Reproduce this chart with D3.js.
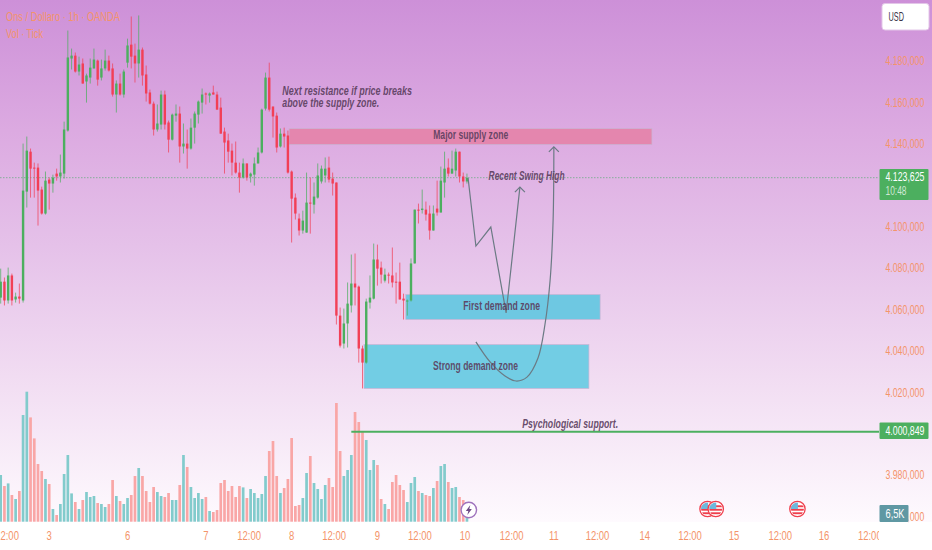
<!DOCTYPE html>
<html><head><meta charset="utf-8">
<script src="https://cdn.jsdelivr.net/npm/d3@7/dist/d3.min.js"></script>
<style>html,body{margin:0;padding:0;background:#fff;overflow:hidden}svg{display:block}</style>
</head><body><div id="chart"></div>
<script>
const title = "Ons / Dollaro · 1h · OANDA";
const subtitle = "Vol · Tick";
const currency = "USD";
const high = [4079.7,4075.4,4080.2,4077.3,4068.1,4072.5,4140.1,4143.5,4137.7,4130.9,4130.5,4119.3,4126.6,4123.7,4125.1,4128.0,4134.8,4150.7,4194.7,4186.0,4184.1,4182.1,4181.2,4173.9,4181.2,4186.0,4180.7,4180.7,4185.5,4182.6,4178.8,4170.6,4173.9,4175.9,4190.8,4201.5,4188.4,4202.0,4186.5,4177.8,4166.2,4160.4,4159.0,4165.7,4165.7,4151.2,4154.6,4159.0,4158.0,4149.8,4146.9,4152.2,4155.6,4160.9,4166.7,4164.8,4164.8,4168.1,4165.2,4162.3,4147.8,4144.9,4140.1,4141.1,4130.9,4132.9,4130.5,4126.1,4133.4,4138.2,4157.0,4174.4,4179.2,4158.0,4155.1,4147.4,4147.8,4146.4,4127.1,4116.0,4106.3,4107.7,4126.1,4123.7,4121.3,4130.5,4129.5,4133.4,4133.8,4126.1,4121.3,4060.9,4060.4,4073.0,4086.5,4087.0,4071.5,4042.5,4065.2,4076.4,4091.8,4091.3,4083.1,4079.7,4077.8,4089.9,4077.8,4082.6,4067.6,4064.8,4084.6,4108.2,4111.1,4117.9,4112.1,4110.2,4110.2,4122.2,4129.0,4136.2,4132.9,4136.7,4137.7,4136.2,4126.1,4125.6];
const open = [4065.7,4073.4,4064.3,4076.4,4064.8,4066.2,4064.3,4116.9,4136.2,4128.5,4128.5,4117.9,4106.3,4122.7,4120.8,4125.6,4124.2,4125.6,4146.4,4181.2,4182.6,4174.9,4178.8,4170.1,4172.0,4176.4,4180.2,4172.0,4176.4,4180.2,4176.4,4163.8,4169.1,4163.8,4179.2,4187.9,4182.6,4178.8,4185.5,4173.5,4164.8,4159.4,4146.9,4149.3,4163.8,4150.3,4142.0,4153.6,4154.6,4138.7,4140.1,4137.7,4147.8,4154.1,4159.9,4164.3,4163.3,4164.8,4163.8,4157.5,4145.9,4141.6,4136.7,4130.9,4126.1,4123.7,4130.5,4124.2,4125.1,4130.5,4135.8,4157.0,4172.0,4158.0,4153.6,4138.7,4144.9,4144.0,4126.6,4114.0,4103.9,4098.1,4097.1,4111.6,4110.6,4114.0,4121.8,4124.7,4128.5,4123.2,4121.3,4057.0,4043.5,4053.2,4061.9,4072.5,4071.0,4041.1,4034.3,4063.3,4065.2,4084.1,4080.2,4073.9,4076.8,4076.4,4073.4,4073.4,4065.2,4063.8,4064.3,4082.2,4108.2,4108.0,4108.2,4106.3,4098.1,4108.7,4106.8,4121.3,4128.5,4125.6,4127.1,4136.2,4124.2,4121.8];
const low = [4062.8,4061.9,4062.8,4061.9,4063.3,4062.8,4063.3,4109.2,4114.0,4114.0,4100.5,4105.8,4105.8,4108.2,4116.4,4122.2,4121.3,4123.2,4145.9,4175.9,4174.4,4173.0,4169.1,4159.9,4169.1,4176.4,4168.1,4170.6,4175.4,4174.9,4162.8,4155.1,4163.3,4162.3,4176.8,4176.4,4169.6,4172.0,4168.1,4160.4,4159.0,4144.0,4145.9,4146.9,4146.9,4135.8,4141.6,4150.7,4130.9,4135.3,4128.0,4137.2,4140.1,4149.8,4154.6,4159.0,4159.9,4163.8,4156.5,4144.9,4125.6,4130.9,4124.7,4125.6,4116.4,4123.2,4122.2,4121.3,4119.8,4130.5,4135.3,4156.1,4155.6,4143.0,4135.8,4138.2,4138.2,4125.6,4092.3,4103.4,4095.7,4096.6,4097.1,4096.6,4106.3,4113.5,4120.8,4121.3,4121.3,4115.0,4052.7,4041.6,4041.1,4041.6,4058.5,4061.9,4034.3,4021.8,4033.8,4060.4,4064.8,4071.5,4072.5,4073.0,4072.5,4070.6,4062.8,4064.8,4055.1,4057.0,4063.8,4082.2,4101.5,4106.3,4102.9,4093.7,4098.1,4105.3,4106.8,4114.0,4124.2,4125.6,4124.2,4121.3,4118.9,4120.8];
const close = [4073.4,4064.3,4076.4,4064.3,4066.2,4065.2,4117.4,4136.7,4128.0,4128.0,4117.4,4106.3,4122.2,4120.8,4123.7,4124.2,4126.1,4146.9,4181.7,4182.6,4174.9,4178.3,4169.1,4173.0,4176.8,4180.7,4171.0,4176.4,4180.2,4175.4,4163.8,4169.1,4163.8,4174.9,4187.5,4182.1,4178.8,4185.5,4173.0,4164.3,4159.4,4146.9,4149.8,4163.8,4149.3,4142.0,4154.1,4154.6,4138.7,4140.1,4137.7,4147.8,4154.6,4160.4,4163.8,4163.8,4164.3,4163.8,4156.5,4144.9,4140.6,4136.2,4130.9,4126.1,4123.7,4130.5,4123.7,4125.6,4130.5,4135.8,4156.5,4172.0,4156.5,4153.2,4138.2,4144.9,4143.5,4126.1,4113.5,4106.3,4098.1,4102.9,4111.6,4111.1,4114.5,4124.7,4128.0,4128.0,4122.7,4120.8,4057.0,4042.5,4053.2,4062.8,4072.5,4070.6,4041.1,4034.3,4063.8,4065.7,4084.1,4079.7,4076.8,4076.8,4076.4,4073.0,4073.0,4064.8,4064.3,4064.3,4082.2,4108.2,4107.7,4108.7,4105.8,4098.1,4106.3,4106.8,4122.2,4128.0,4125.6,4128.0,4136.2,4124.2,4121.8,4123.6];
const volume = [60.7,46.4,49.8,34.7,29.5,39.9,138.7,169.0,135.6,108.3,75.0,65.9,55.5,49.0,16.5,8.7,23.0,62.0,86.7,36.8,25.6,16.5,28.2,38.6,32.1,33.4,24.3,23.0,19.1,23.0,54.2,33.4,26.9,23.0,30.8,34.7,59.4,69.8,59.4,39.9,25.6,45.1,38.6,33.4,32.1,37.3,28.2,28.2,47.7,86.7,71.1,45.1,30.8,37.3,29.5,32.1,13.9,12.6,15.2,50.3,54.2,39.9,46.4,32.1,46.4,44.6,30.8,42.5,37.3,30.8,36.0,59.4,91.9,104.9,59.4,37.3,43.8,55.5,108.8,20.4,21.7,30.8,63.3,85.4,50.3,42.5,29.5,47.7,56.8,45.1,154.3,91.9,59.4,67.2,86.7,142.6,129.6,116.6,106.2,67.2,80.2,73.7,29.5,23.0,16.5,51.6,60.7,47.7,41.2,25.6,50.3,58.1,39.9,37.3,34.7,33.4,43.8,52.9,72.4,75.0,51.6,43.8,45.1,32.1,28.2,6.5];
const priceTicks = [4180,4160,4140,4100,4080,4060,4040,4020,3980];
const timeTickPos = [1.7,13,34,55,66.6,78,89.4,101,112.4,124.5,137,148.3,160,172.7,184.8,196.6,209,220.7,233];
const timeTickLabels = ["12:00","3","6","7","12:00","8","12:00","9","12:00","10","12:00","11","12:00","14","12:00","15","12:00","16","12:00"];
const zoneNames = ["Major supply zone","First demand zone","Strong demand zone"];
const zoneFrom = [77.3,108.6,97.4];
const zoneTo = [174.6,160.7,157.7];
const zoneTop = [4147.4,4067.2,4043.0];
const zoneBottom = [4139.6,4055.1,4021.8];
const zoneColors = ["#e486ae","#6ec8e2","#72cde4"];
const zoneLabelPos = [126,134.3,127.3];
const zoneLabelPrice = [4144.3,4061.8,4032.9];
const notes = ["Next resistance if price breaks","above the supply zone.","Recent Swing High","Psychological support."];
const noteBar = [75.5,75.5,130.8,139.8];
const notePrice = [4165.9,4160.1,4124.6,4004.9];
const zigzagBar = [125.3,127.4,131.4,135.5,139.2];
const zigzagPrice = [4123.5,4090.6,4099.8,4058.3,4119.1];
const curveBar = [127.4,131.2,135.2,138.2,141.1,144.05,145.9,147.3,148.1,148.3];
const curvePrice = [4044.3,4034.6,4027.8,4025.4,4027.3,4036.5,4052.5,4074.2,4103.2,4138.5];
const supportPrice = 4000.849;
const supportFromBar = 94;
const lastPrice = 4123.625;
const countdown = "10:48";
const lastVolumeLabel = "6,5K";
const eventBars = [189.5,191.7,213.6];
const boltBar = 125.5;

const W = 932, H = 550, plotR = 879, plotB = 522;
const font = '"Liberation Sans",Arimo,sans-serif';
const orange = "#f4946a", plum = "#5b3e5e", green = "#4caf5f", red = "#f23f56";
const x = d3.scaleLinear().domain([0, 125]).range([0.7, 0.7 + 125 * 3.73]);
const y = d3.scaleLinear().domain([3960, 4180]).range([516.4, 61]);
const v = d3.scaleLinear().domain([0, 169]).range([521.7, 391.7]);
const fmtPrice = p => { const s = d3.format(",.3f")(p); return s.replace(/[,.]/g, c => c === "," ? "." : ","); };

const svg = d3.select("#chart").append("svg").attr("width", W).attr("height", H).attr("viewBox", `0 0 ${W} ${H}`);
const defs = svg.append("defs");
const grad = defs.append("linearGradient").attr("id", "bg").attr("x1", 0).attr("x2", 0).attr("y1", 0).attr("y2", 1);
[[0,"#cd90d8"],[.25,"#dcaae1"],[.47,"#e5c1e9"],[.72,"#f1dcf2"],[1,"#fefafe"]].forEach(d => grad.append("stop").attr("offset", d[0]).attr("stop-color", d[1]));
defs.append("clipPath").attr("id", "plotClip").append("rect").attr("width", plotR).attr("height", H);
defs.append("clipPath").attr("id", "flagClip").append("circle").attr("r", 6.5);

svg.append("rect").attr("width", W).attr("height", plotB).attr("fill", "url(#bg)");
const idx = d3.range(close.length);
const isUp = i => close[i] >= open[i];

// volume
svg.append("g").selectAll("rect").data(idx).join("rect")
  .attr("x", i => x(i) - 1.35).attr("width", 2.7)
  .attr("y", i => v(volume[i])).attr("height", i => v(0) - v(volume[i]))
  .attr("fill", i => isUp(i) ? "#82cbcc" : "#f9a6a6");

// last price line
svg.append("line").attr("x1", 0).attr("x2", plotR).attr("y1", y(lastPrice)).attr("y2", y(lastPrice))
  .attr("stroke", "#6fae87").attr("stroke-width", 1).attr("stroke-dasharray", "1.5 1.5").attr("opacity", .8);

// zones
const zg = svg.append("g");
zoneNames.forEach((n, k) => {
  zg.append("rect").attr("x", x(zoneFrom[k])).attr("width", x(zoneTo[k]) - x(zoneFrom[k]))
    .attr("y", y(zoneTop[k])).attr("height", y(zoneBottom[k]) - y(zoneTop[k]))
    .attr("fill", zoneColors[k]).attr("stroke", "#c9b4d4").attr("stroke-width", .7);
});

// candles
const cg = svg.append("g");
cg.selectAll("line").data(idx).join("line")
  .attr("x1", i => x(i)).attr("x2", i => x(i)).attr("y1", i => y(high[i])).attr("y2", i => y(low[i]))
  .attr("stroke", i => isUp(i) ? green : red).attr("stroke-width", 1).attr("opacity", .72);
cg.selectAll("rect").data(idx).join("rect")
  .attr("x", i => x(i) - 1.2).attr("width", 2.4)
  .attr("y", i => y(Math.max(open[i], close[i])))
  .attr("height", i => Math.max(1, Math.abs(y(open[i]) - y(close[i]))))
  .attr("fill", i => isUp(i) ? green : red);

// arrows
const ag = svg.append("g").attr("fill", "none").attr("stroke", "#6b7a84").attr("stroke-width", 1.2);
const zz = d3.line().x(i => x(zigzagBar[i])).y(i => y(zigzagPrice[i]));
ag.append("path").attr("d", zz(d3.range(zigzagBar.length)));
const cv = d3.line().x(i => x(curveBar[i])).y(i => y(curvePrice[i])).curve(d3.curveCatmullRom);
ag.append("path").attr("d", cv(d3.range(curveBar.length)));
function head(bar, price) {
  const hx = x(bar), hy = y(price);
  ag.append("path").attr("d", `M${hx - 5},${hy + 5}L${hx},${hy}L${hx + 5},${hy + 5}`);
}
head(zigzagBar[4], zigzagPrice[4]);
head(curveBar[9], curvePrice[9]);

// support line
svg.append("line").attr("x1", x(supportFromBar)).attr("x2", plotR).attr("y1", y(supportPrice)).attr("y2", y(supportPrice))
  .attr("stroke", green).attr("stroke-width", 2);

// bolt
const bx = x(boltBar), by = 510;
svg.append("circle").attr("cx", bx).attr("cy", by).attr("r", 7.7).attr("fill", "#fff").attr("stroke", "#9f72bd").attr("stroke-width", 1.4);
svg.append("path").attr("transform", `translate(${bx},${by})`).attr("d", "M1.5,-5L-3,1L-0.5,1L-1.5,5L3,-1L0.5,-1Z").attr("fill", "#6d4a85");

// events
eventBars.forEach(b => {
  const g = svg.append("g").attr("transform", `translate(${x(b)},509)`);
  g.append("circle").attr("r", 7.7).attr("fill", "#fff").attr("stroke", "#ef3f4d").attr("stroke-width", 1.3);
  const c = g.append("g").attr("clip-path", "url(#flagClip)");
  [-3.5, 0, 3.5].forEach(s => c.append("rect").attr("x", -7).attr("y", s - .2).attr("width", 14).attr("height", 1.9).attr("fill", "#ef3f4d"));
  c.append("rect").attr("x", -7).attr("y", -7).attr("width", 7.5).attr("height", 7).attr("fill", "#6cb8dc");
});

// squeeze text horizontally to the narrow face of the reference
const squeeze = (el, sx) => {
  const tx = el.getAttribute("x"), ty = el.getAttribute("y");
  el.setAttribute("x", 0); el.setAttribute("y", 0);
  el.setAttribute("transform", `translate(${tx},${ty}) scale(${sx},1)`);
};
const narrow = (sel, ratio) => sel.each(function () { squeeze(this, ratio); });
const fit = (sel, w) => sel.each(function () { squeeze(this, w / this.getComputedTextLength()); });

// price scale ticks
const ax = svg.append("g").attr("font-family", font).attr("font-size", 12.5);
ax.append("g").selectAll("text").data(priceTicks).join("text")
  .attr("x", 885.5).attr("y", d => y(d)).attr("dy", "0.35em").attr("fill", orange).text(fmtPrice)
  .call(fit, 38.8);
// the 3.960 tick sits behind the volume tag and only its tail shows
const tailClip = defs.append("clipPath").attr("id", "tailClip").append("rect").attr("x", 908.5).attr("y", 500).attr("width", 22).attr("height", 24);
ax.append("g").attr("clip-path", "url(#tailClip)").append("text")
  .attr("x", 885.5).attr("y", y(3960)).attr("dy", "0.35em").attr("fill", orange).text(fmtPrice(3960)).call(fit, 38.8);
// time ticks
const tt = ax.append("g").attr("clip-path", "url(#plotClip)");
tt.selectAll("text").data(timeTickLabels).join("text")
  .attr("x", (d, i) => x(timeTickPos[i])).attr("y", 535.5).attr("dy", "0.35em").attr("text-anchor", "middle").attr("fill", orange).text(d => d)
  .call(narrow, 0.76);

// header
fit(ax.append("text").attr("x", 6).attr("y", 16.5).attr("dy", "0.35em").attr("font-size", 13).attr("fill", orange).text(title), 114);
fit(ax.append("text").attr("x", 6).attr("y", 33).attr("dy", "0.35em").attr("font-size", 13).attr("fill", orange).text(subtitle), 37);

// USD box
svg.append("rect").attr("x", 882).attr("y", 3.5).attr("width", 47).attr("height", 26.5).attr("rx", 3).attr("fill", "#fff").attr("stroke", "#e3c6e8");

// price tags
svg.append("rect").attr("x", 879.5).attr("y", 169).attr("width", 49).attr("height", 31).attr("rx", 1).attr("fill", green);
svg.append("rect").attr("x", 879.5).attr("y", 422.5).attr("width", 49).attr("height", 16.5).attr("rx", 1).attr("fill", green);
svg.append("rect").attr("x", 879.5).attr("y", 505).attr("width", 29).attr("height", 17).attr("rx", 1).attr("fill", "#5f98a3");
const tags = svg.append("g").attr("font-family", font).attr("font-size", 12.5);
fit(tags.append("text").attr("x", 888.5).attr("y", 17).attr("dy", "0.35em").attr("fill", "#3c3347").text(currency), 15.5);
fit(tags.append("text").attr("x", 885.5).attr("y", 177).attr("dy", "0.35em").attr("fill", "#fff").text(fmtPrice(lastPrice)), 39);
fit(tags.append("text").attr("x", 885.5).attr("y", 191).attr("dy", "0.35em").attr("fill", "#cfe8d4").text(countdown), 21);
fit(tags.append("text").attr("x", 885.5).attr("y", 430.5).attr("dy", "0.35em").attr("fill", "#fff").text(fmtPrice(supportPrice)), 39);
fit(tags.append("text").attr("x", 885.5).attr("y", 513.5).attr("dy", "0.35em").attr("fill", "#fff").text(lastVolumeLabel), 19);

// zone labels + notes
const zoneW = [75, 77, 85], noteW = [130, 97, 76, 96];
const tg = svg.append("g").attr("font-family", font).attr("fill", plum);
zoneNames.forEach((n, k) => fit(tg.append("text").attr("x", x(zoneLabelPos[k])).attr("y", y(zoneLabelPrice[k])).attr("dy", "0.35em")
  .attr("text-anchor", "middle").attr("font-size", 13).attr("font-weight", 700).attr("fill-opacity", .92).text(n), zoneW[k]));
notes.forEach((n, k) => fit(tg.append("text").attr("x", x(noteBar[k])).attr("y", y(notePrice[k])).attr("dy", "0.35em")
  .attr("font-size", 13).attr("font-weight", 700).attr("font-style", "italic").attr("fill-opacity", .92).text(n), noteW[k]));
</script>
</body></html>
